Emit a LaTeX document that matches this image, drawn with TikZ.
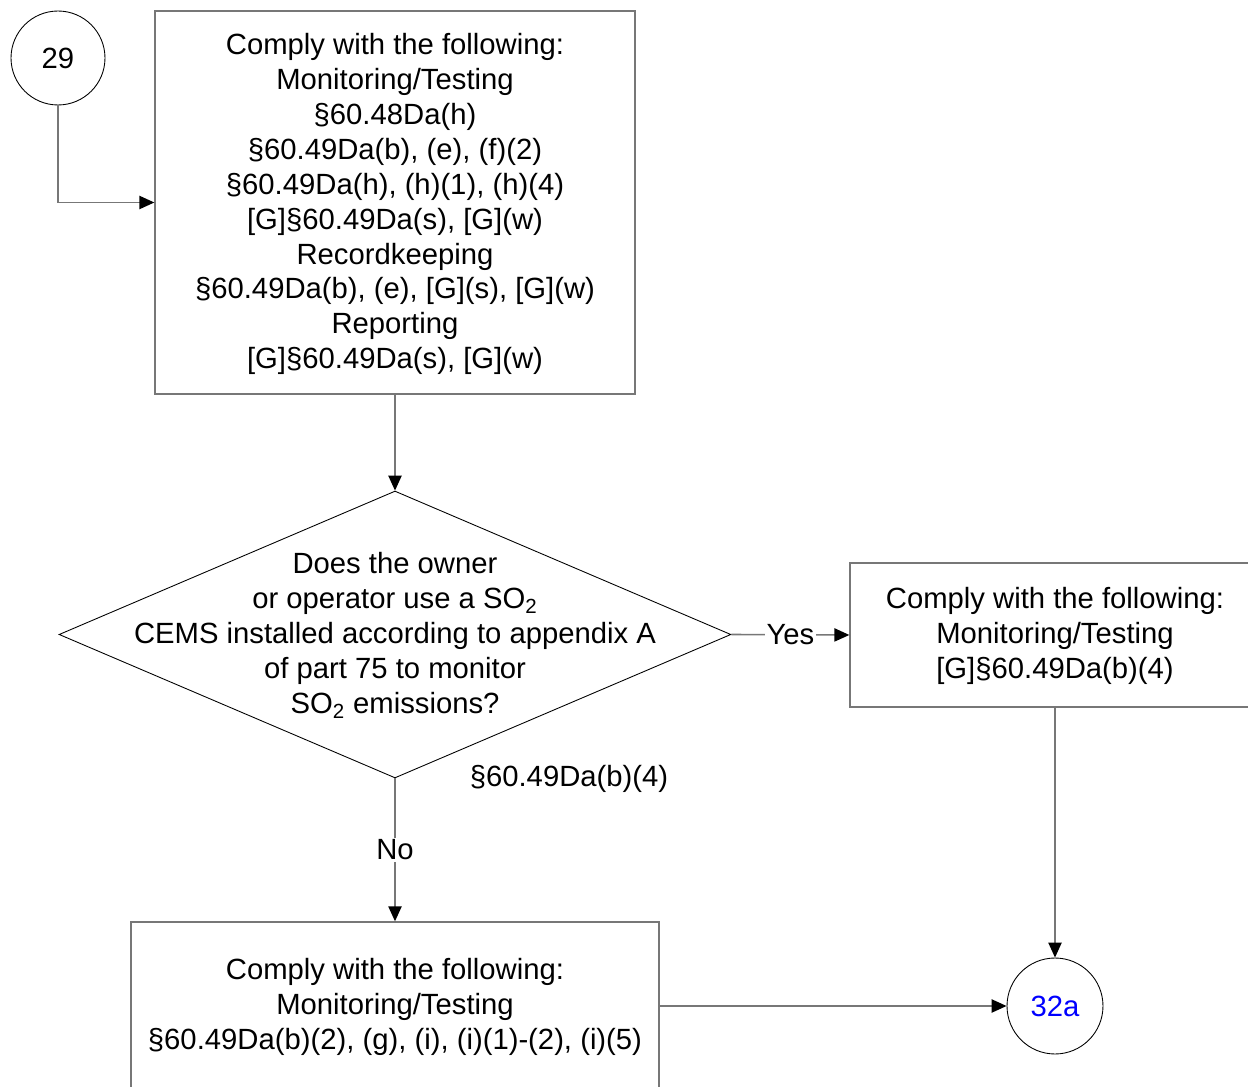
\documentclass[tikz,border=0pt]{standalone}
\usepackage{fontspec}
\setmainfont{Liberation Sans}
\usetikzlibrary{shapes.geometric,arrows.meta}
\definecolor{lgray}{HTML}{777777}
\begin{document}
\begin{tikzpicture}[x=0.02cm,y=-0.02cm,
  every node/.style={font=\fontsize{16.65pt}{19.9pt}\selectfont, align=center},
  boxst/.style={draw=lgray, line width=0.8pt, rectangle, inner sep=0pt},
  circst/.style={draw=black, line width=0.5pt, circle, inner sep=0pt},
  conn/.style={draw=lgray, line width=0.9pt, -{Triangle[length=8.5pt,width=7.5pt,color=black]}},
  lab/.style={fill=white, inner sep=1pt}
]
\clip (0,0) rectangle (1248,1087);
\fill[white] (0,0) rectangle (1248,1087);

\node[circst, minimum size=1.88cm] (c29) at (58,58) {29};
\node[boxst, minimum width=9.6cm, minimum height=7.66cm] (b1) at (395,202.5) {};
\node (b1t) at (395,204) {Comply with the following:\\Monitoring/Testing\\§60.48Da(h)\\§60.49Da(b), (e), (f)(2)\\§60.49Da(h), (h)(1), (h)(4)\\{[}G{]}§60.49Da(s), [G](w)\\Recordkeeping\\§60.49Da(b), (e), [G](s), [G](w)\\Reporting\\{[}G{]}§60.49Da(s), [G](w)};

\node[diamond, draw=black, line width=0.5pt, minimum width=13.44cm, minimum height=5.74cm, inner sep=0pt] (q) at (395,634.5) {};
\node (qt) at (395,635.5) {Does the owner\\or operator use a SO\textsubscript{2}\\CEMS installed according to appendix A\\of part 75 to monitor\\SO\textsubscript{2} emissions?};
\node (qref) at (569,779) {§60.49Da(b)(4)};

\node[boxst, minimum width=8.2cm, minimum height=2.88cm] (b2) at (1055,635) {};
\node (b2t) at (1055,636) {Comply with the following:\\Monitoring/Testing\\{[}G{]}§60.49Da(b)(4)};
\node[boxst, minimum width=10.56cm, minimum height=3.36cm] (b3) at (395,1006) {};
\node (b3t) at (395,1007) {Comply with the following:\\Monitoring/Testing\\§60.49Da(b)(2), (g), (i), (i)(1)-(2), (i)(5)};
\node[circst, minimum size=1.92cm, text=blue] (c32) at (1055,1006) {32a};

\draw[conn] (c29.south) |- (b1.west);
\draw[conn] (b1.south) -- (q.north);
\draw[conn] (q.east) -- node[lab]{Yes} (b2.west);
\draw[conn] (q.south) -- node[lab]{No} (b3.north);
\draw[conn] (b2.south) -- (c32.north);
\draw[conn] (b3.east) -- (c32.west);
\end{tikzpicture}
\end{document}
